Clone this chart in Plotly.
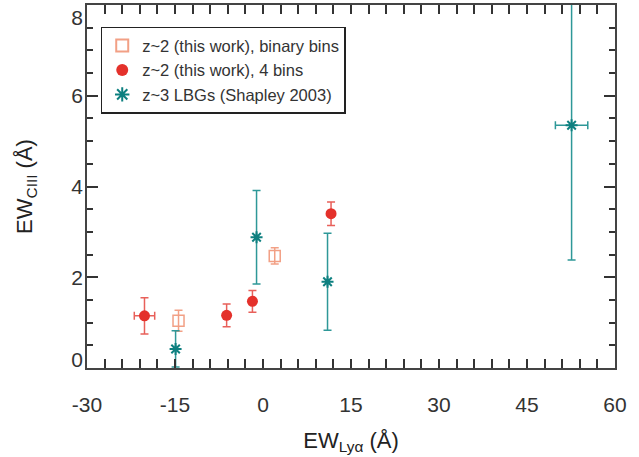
import plotly.graph_objects as go

# Data
bin2_x = [-14.4, 2.0]
bin2_y = [1.04, 2.47]
bin2_yerr = [0.23, 0.18]

bin4_x = [-20.2, -6.2, -1.8, 11.6]
bin4_y = [1.15, 1.16, 1.47, 3.40]
bin4_yerr = [0.40, 0.25, 0.24, 0.26]
bin4_xerr = [1.74, 0.0, 0.0, 0.0]

lbg_x = [-14.9, -1.1, 11.0, 52.6]
lbg_y = [0.42, 2.88, 1.90, 5.35]
lbg_yerr = [0.40, 1.03, 1.07, 2.97]
lbg_xerr = [0.0, 0.0, 0.0, 2.76]

x_ticks = [-30, -15, 0, 15, 30, 45, 60]
y_ticks = [0, 2, 4, 6, 8]

X_RANGE = [-30, 60]
Y_RANGE = [0, 8]

FONT = "Liberation Sans, Arial, Helvetica, sans-serif"
RED = "#E4312B"
RED_ERR = "#E8605A"
SALMON = "#F2A085"
TEAL = "#0E8080"
TEAL_ERR = "#2E9898"
AX = "#444444"
TXT = "#333333"

fig = go.Figure()

fig.add_trace(go.Scatter(
    x=bin2_x, y=bin2_y, mode="markers",
    name="z~2 (this work), binary bins",
    marker=dict(symbol="square-open", size=11, color=SALMON, line=dict(width=1.5, color=SALMON)),
    error_y=dict(type="data", array=bin2_yerr, color=SALMON, thickness=1.5, width=4),
))

fig.add_trace(go.Scatter(
    x=bin4_x, y=bin4_y, mode="markers",
    name="z~2 (this work), 4 bins",
    marker=dict(symbol="circle", size=11, color=RED),
    error_y=dict(type="data", array=bin4_yerr, color=RED_ERR, thickness=1.5, width=4),
    error_x=dict(type="data", array=bin4_xerr, color=RED_ERR, thickness=1.5, width=4),
))

fig.add_trace(go.Scatter(
    x=lbg_x, y=lbg_y, mode="markers",
    name="z~3 LBGs (Shapley 2003)",
    marker=dict(symbol="asterisk-open", size=10, color=TEAL, line=dict(width=2, color=TEAL)),
    error_y=dict(type="data", array=lbg_yerr, color=TEAL_ERR, thickness=1.5, width=4),
    error_x=dict(type="data", array=lbg_xerr, color=TEAL_ERR, thickness=1.5, width=4),
))

axis_common = dict(
    showgrid=False, zeroline=False, showline=True, linecolor=AX, linewidth=2,
    mirror="allticks", ticks="inside", tickcolor=TXT, tickwidth=1.5,
    tickfont=dict(family=FONT, size=21, color=TXT), automargin=False,
    ticklabeloverflow="allow",
)

fig.update_xaxes(
    range=X_RANGE, tickvals=x_ticks, ticktext=[str(v) for v in x_ticks], ticklen=9,
    minor=dict(dtick=3, ticks="inside", ticklen=5, tickcolor=TXT, tickwidth=1.5),
    ticklabelstandoff=17,
    title=dict(text="EW<sub>Lyα</sub> (Å)", font=dict(family=FONT, size=22, color="#222222"), standoff=17),
    **axis_common,
)

# main y axis: ticks only; labels on an overlaid axis so the end labels stay inside the frame
y_label_pos = [min(max(v, Y_RANGE[0] + 0.18), Y_RANGE[1] - 0.28) for v in y_ticks]
fig.update_yaxes(
    range=Y_RANGE, tickvals=y_ticks, showticklabels=False, ticklen=11,
    minor=dict(dtick=0.5, ticks="inside", ticklen=6, tickcolor=TXT, tickwidth=1.5),
    **axis_common,
)
fig.update_layout(yaxis2=dict(
    overlaying="y", side="left", range=Y_RANGE, tickvals=y_label_pos,
    ticktext=[str(v) for v in y_ticks], ticks="", showline=False, showgrid=False,
    zeroline=False, tickfont=dict(family=FONT, size=21, color=TXT), automargin=False,
    ticklabelstandoff=3, ticklabeloverflow="allow",
    title=dict(text="EW<sub>CIII</sub> (Å)", font=dict(family=FONT, size=22, color="#222222"), standoff=32),
))
# invisible trace to activate the label axis
fig.add_trace(go.Scatter(x=[X_RANGE[0]], y=[Y_RANGE[0]], yaxis="y2", mode="markers",
                         marker=dict(opacity=0), showlegend=False, hoverinfo="skip"))

fig.update_layout(
    width=639, height=457,
    margin=dict(l=87, r=24, t=5, b=89),
    paper_bgcolor="white", plot_bgcolor="white",
    showlegend=True,
    legend=dict(
        x=0.026, y=0.94, xanchor="left", yanchor="top",
        bordercolor="#222222", borderwidth=1.5, bgcolor="white",
        font=dict(family=FONT, size=16.5, color=TXT),
        itemsizing="constant", tracegroupgap=0,
    ),
)

fig.write_html("out.html", post_script="document.body.style.margin='0';",
               config={"displayModeBar": False})
